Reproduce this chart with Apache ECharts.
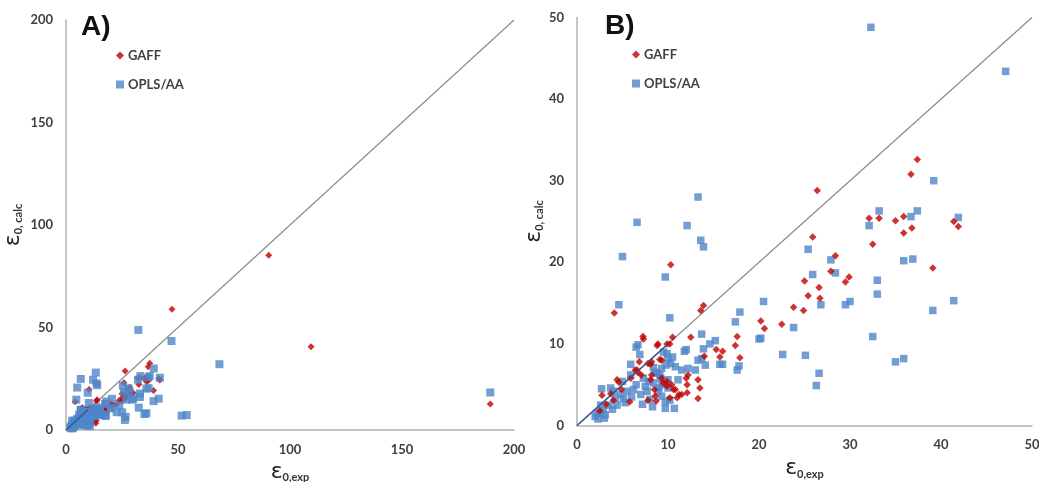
<!DOCTYPE html>
<html>
<head>
<meta charset="utf-8">
<script src="https://cdn.jsdelivr.net/npm/echarts@6/dist/echarts.min.js"></script>
<style>
  html, body { margin: 0; padding: 0; background: #ffffff; }
  #chart { width: 1039px; height: 482px; }
</style>
</head>
<body>
<div id="chart"></div>
<script>
// ---- data: [epsilon_exp, epsilon_calc] ----
const gaff = [
  [90.5, 85.2], [47.3, 58.9], [109.4, 40.6], [189.4, 12.7],
  [37.4, 32.6], [36.7, 30.8], [26.4, 28.8], [32.1, 25.4], [33.2, 25.4], [35.0, 25.1],
  [35.9, 25.6], [35.9, 23.6], [36.8, 24.2], [41.4, 25.0], [41.9, 24.4], [32.5, 22.2],
  [25.9, 23.1], [28.4, 20.8], [27.9, 18.9], [39.1, 19.3], [29.9, 18.2], [29.5, 17.6],
  [25.0, 17.7], [25.4, 15.9], [26.6, 16.9], [26.7, 15.6], [23.8, 14.5], [24.9, 14.1],
  [22.5, 12.4], [20.2, 12.8], [20.6, 11.9], [10.3, 19.7], [4.1, 13.8], [13.9, 14.7],
  [13.6, 14.1], [17.4, 9.8], [17.6, 10.9], [17.9, 8.3], [12.5, 10.8], [15.3, 9.3],
  [16.0, 9.1], [15.7, 8.4], [14.0, 8.5], [13.3, 5.6], [13.5, 4.6], [13.3, 3.3],
  [12.1, 5.0], [11.5, 3.8], [10.6, 4.4], [10.5, 10.8], [8.9, 10.0], [9.9, 10.0],
  [10.2, 10.0], [7.25, 10.9], [7.3, 10.6], [12.2, 6.2], [12.0, 5.8], [11.2, 3.8],
  [10.8, 4.4], [9.9, 4.8], [9.5, 5.2], [9.1, 8.1], [9.3, 8.0], [7.8, 7.6], [8.1, 7.5],
  [6.85, 7.8], [6.4, 6.8], [6.7, 6.5], [7.07, 6.2], [8.2, 6.2], [8.1, 5.6], [8.5, 4.4],
  [8.6, 3.6], [7.8, 3.1], [8.7, 3.0], [5.8, 2.9], [4.9, 4.4], [3.7, 3.9], [2.75, 3.7],
  [4.4, 5.6], [11.0, 3.4], [10.2, 3.4], [5.9, 5.8], [4.6, 5.3], [8.8, 9.8], [9.3, 5.8],
  [9.9, 5.4], [10.4, 5.0], [12.1, 4.0], [8.2, 7.8], [6.6, 6.8], [3.2, 2.6], [2.5, 1.8],
  [4.0, 3.1]
];
const opls = [
  [189.4, 18.3], [68.5, 32.1], [51.6, 7.0], [53.9, 7.3],
  [32.3, 48.8], [47.1, 43.4], [13.3, 28.0], [6.6, 24.9], [12.1, 24.5], [13.6, 22.7],
  [13.9, 21.9], [5.0, 20.7], [9.7, 18.2], [4.6, 14.8], [10.2, 13.2], [39.2, 30.0],
  [33.2, 26.3], [36.7, 25.6], [37.4, 26.3], [32.1, 24.5], [41.9, 25.5], [25.4, 21.6],
  [27.9, 20.3], [35.9, 20.2], [36.9, 20.4], [25.9, 18.5], [28.4, 18.7], [33.0, 17.8],
  [33.0, 16.1], [20.5, 15.2], [26.8, 14.8], [29.5, 14.8], [30.0, 15.2], [41.4, 15.3],
  [39.1, 14.1], [17.4, 12.7], [17.9, 13.9], [23.8, 12.0], [20.0, 10.6], [20.2, 10.7],
  [32.5, 10.9], [22.6, 8.7], [25.1, 8.6], [35.0, 7.8], [35.9, 8.2], [26.6, 6.4],
  [26.3, 4.9], [17.6, 6.8], [17.8, 7.3], [15.7, 7.5], [16.0, 7.5], [14.6, 10.0],
  [15.2, 10.4], [13.7, 11.2],
  [12.0, 9.3], [11.8, 9.1], [13.9, 9.4], [13.7, 8.2], [13.3, 8.0], [14.1, 7.4],
  [10.0, 8.2], [10.3, 7.6], [10.8, 7.2], [11.5, 6.8], [12.2, 7.0], [13.0, 6.8],
  [9.3, 7.0], [9.1, 6.2], [10.0, 5.6], [11.1, 5.6], [9.3, 5.0], [10.0, 4.6], [8.9, 4.2],
  [9.3, 3.6], [9.7, 2.9], [10.2, 3.1], [9.7, 2.1], [10.7, 2.1],
  [6.7, 9.9], [6.5, 9.6], [5.9, 7.5], [6.9, 8.7], [8.4, 7.1], [8.6, 6.5], [3.7, 4.6],
  [2.7, 4.5], [2.6, 2.5], [2.2, 1.5], [3.1, 1.3], [4.4, 2.5], [5.1, 3.3], [5.5, 4.2],
  [6.2, 4.4], [7.0, 3.8], [7.7, 4.2], [7.3, 5.8], [7.9, 5.4], [8.4, 5.2], [9.0, 4.6],
  [5.9, 6.2], [5.0, 5.4], [4.2, 3.3], [3.5, 2.5], [2.9, 1.9], [8.8, 6.4], [9.2, 5.8],
  [2.0, 1.1], [2.5, 1.5], [6.0, 3.5], [6.5, 5.0], [7.5, 4.8], [8.0, 3.2], [4.8, 3.8],
  [3.9, 2.0], [2.3, 0.8], [3.0, 0.9], [5.3, 2.8], [7.2, 2.6], [8.3, 2.3], [4.0, 4.2],
  [9.8, 7.4], [9.5, 9.0], [9.9, 8.8], [10.5, 8.4]
];
const diagonalA = [[0, 0], [200, 200]];
const diagonalB = [[0, 0], [50, 50]];
const trendSeg = [[0, 0], [10, 10]];
const ticksA = { min: 0, max: 200, interval: 50 };
const ticksB = { min: 0, max: 50, interval: 10 };
const panelLabels = ['A)', 'B)'];
const seriesNames = ['GAFF', 'OPLS/AA'];

const RED = '#c00000';
const BLUE = '#4f86c8';
const FONT = 'Lato, "Open Sans", sans-serif';

function axisCommon(t) {
  return {
    type: 'value', min: t.min, max: t.max, interval: t.interval,
    splitLine: { show: false },
    axisTick: { show: false },
    axisLine: { show: true, onZero: false, lineStyle: { color: '#b3b3b3', width: 1.5 } },
    axisLabel: { color: '#404040', fontSize: 13, fontWeight: 'bold', fontFamily: FONT, margin: 13 },
    nameLocation: 'middle',
    nameTextStyle: {
      color: '#222',
      rich: {
        e: { fontSize: 22, fontFamily: '"DejaVu Sans", sans-serif', color: '#222' },
        s: { fontSize: 11, fontFamily: FONT, fontWeight: 'bold', color: '#333', verticalAlign: 'bottom', padding: [8, 0, 0, 0] }
      }
    }
  };
}

const chart = echarts.init(document.getElementById('chart'), null, { renderer: 'canvas' });
const grids = [
  { left: 66, top: 20, width: 448, height: 410, containLabel: false, outerBoundsMode: 'none' },
  { left: 577, top: 17.5, width: 455, height: 408, containLabel: false, outerBoundsMode: 'none' }
];
const xAxes = [ticksA, ticksB].map((t, i) => Object.assign(axisCommon(t), {
  gridIndex: i, name: '{e|ε}{s|0,exp}', nameGap: i === 0 ? 31 : 32
}));
const yAxes = [ticksA, ticksB].map((t, i) => Object.assign(axisCommon(t), {
  gridIndex: i, name: '{e|ε}{s|0, calc}', nameGap: i === 0 ? 42 : 32
}));

const series = [];
[diagonalA, diagonalB].forEach((diag, i) => {
  series.push({
    type: 'line', name: 'diag' + i, xAxisIndex: i, yAxisIndex: i, data: diag,
    symbol: 'none', silent: true, lineStyle: { color: '#8c8c8c', width: 1.2 }, z: 1
  });
  series.push({
    type: 'scatter', name: seriesNames[1], xAxisIndex: i, yAxisIndex: i, data: opls,
    symbol: 'rect', symbolSize: i === 0 ? 8 : 7.5, itemStyle: { color: BLUE }, z: i === 0 ? 4 : 2
  });
  series.push({
    type: 'line', name: 'trend' + i, xAxisIndex: i, yAxisIndex: i, data: trendSeg,
    symbol: 'none', silent: true, lineStyle: { color: '#2d5593', width: 1.3 }, z: 5
  });
  series.push({
    type: 'scatter', name: seriesNames[0], xAxisIndex: i, yAxisIndex: i, data: gaff,
    symbol: 'diamond', symbolSize: i === 0 ? 7 : 7.5, itemStyle: { color: RED }, z: i === 0 ? 2 : 4
  });
});

const legendCommon = {
  orient: 'vertical', itemWidth: 8, itemHeight: 8, itemGap: 16,
  selectedMode: false,
  textStyle: { color: '#404040', fontSize: 13, fontWeight: 'bold', fontFamily: FONT, padding: [0, 0, 0, -1] },
  data: [{ name: seriesNames[0], icon: 'diamond' }, { name: seriesNames[1], icon: 'rect' }]
};

chart.setOption({
  animation: false,
  backgroundColor: '#ffffff',
  title: panelLabels.map((t, i) => ({
    text: t, left: i === 0 ? 76 : 600, top: i === 0 ? 8 : 7,
    textStyle: { fontSize: 28, fontWeight: 'bold', color: '#111', fontFamily: '"Liberation Sans", Arial, sans-serif' }
  })),
  legend: [
    Object.assign({}, legendCommon, { left: 111, top: 44 }),
    Object.assign({}, legendCommon, { left: 627, top: 43 })
  ],
  grid: grids,
  xAxis: xAxes,
  yAxis: yAxes,
  series: series
});
</script>
</body>
</html>
